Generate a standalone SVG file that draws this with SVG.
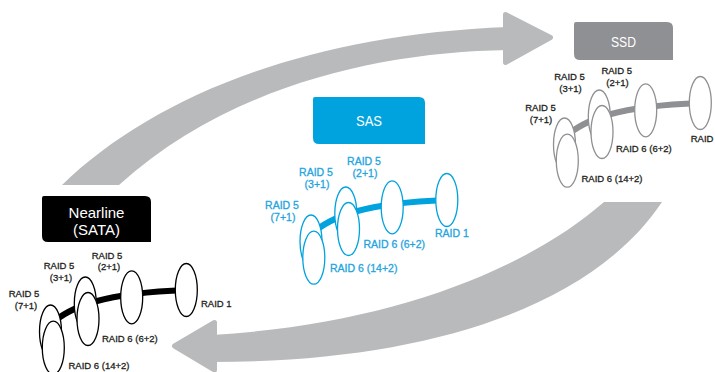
<svg xmlns="http://www.w3.org/2000/svg" width="715" height="372" viewBox="0 0 715 372">
  <style>
    .shaft{fill:#b9babc}
    .head{fill:#b9babc;stroke:#b9babc;stroke-width:5;stroke-linejoin:round}
    .title{font-family:"Liberation Sans",Arial,sans-serif;font-size:15px;fill:#fff;text-anchor:middle}
    .lbl{font-family:"Liberation Sans",Arial,sans-serif;font-size:9.5px;fill:#231f20;stroke:#231f20;stroke-width:0.3}
    .sas .lbl{font-size:10.5px;fill:#1ea4de;stroke:#1ea4de}
    .mid{text-anchor:middle}
  </style>
  <defs>
    <!-- one RAID chain: a thick curved rail with six RAID ellipses on it -->
    <g id="chain">
      <path d="M50,325 C70,306 105,293 186,290" fill="none" stroke="currentColor" stroke-width="6"/>
      <g fill="#fff" stroke="currentColor" stroke-width="1.3">
        <ellipse cx="50.5" cy="331.5" rx="11" ry="26.5"/>
        <ellipse cx="53.3" cy="347.7" rx="11" ry="26.5"/>
        <ellipse cx="85.3" cy="303.5" rx="11" ry="26.5"/>
        <ellipse cx="88" cy="319" rx="11" ry="26.5"/>
        <ellipse cx="131.7" cy="297.3" rx="11" ry="26.5"/>
        <ellipse cx="186.3" cy="290" rx="11" ry="26.5"/>
      </g>
    </g>
  </defs>

  <!-- curved arrows between tiers -->
  <g id="connectors">
    <g id="arrow-up">
      <path class="shaft" d="M62,185 C150,100 300,35 508,27 L508,50 C380,52 230,85 119,185 Z"/>
      <path class="head" d="M505.5,14.5 L550.5,37.5 L505.5,62.5 Z"/>
    </g>
    <g id="arrow-down">
      <path class="shaft" d="M604,202 C520,275 380,325 212,335 L212,362 C420,362 590,310 662,202 Z"/>
      <path class="head" d="M214.5,322.5 L174.5,346 L214.5,370 Z"/>
    </g>
  </g>

  <!-- Nearline (SATA) tier -->
  <g id="nearline" class="nl">
    <path d="M44,196 H145 Q151,196 151,202 V242 H48 Q42,242 42,236 V198 Q42,196 44,196 Z" fill="#000"/>
    <text class="title" x="96.5" y="218">Nearline</text>
    <text class="title" x="96.5" y="235">(SATA)</text>
    <use href="#chain" style="color:#000"/>
    <text class="lbl mid" x="24" y="296.5">RAID 5</text>
    <text class="lbl mid" x="26" y="308.5">(7+1)</text>
    <text class="lbl mid" x="59" y="268.8">RAID 5</text>
    <text class="lbl mid" x="61" y="280.5">(3+1)</text>
    <text class="lbl mid" x="107" y="258.5">RAID 5</text>
    <text class="lbl mid" x="109" y="270">(2+1)</text>
    <text class="lbl" x="201" y="307">RAID 1</text>
    <text class="lbl" x="102" y="341.5">RAID 6 (6+2)</text>
    <text class="lbl" x="68.5" y="368.5">RAID 6 (14+2)</text>
  </g>

  <!-- SAS tier -->
  <g id="sas" class="sas">
    <path d="M315,97 H419 Q425,97 425,103 V144 H319 Q313,144 313,138 V99 Q313,97 315,97 Z" fill="#00a3dd"/>
    <text class="title" x="369" y="125.5" textLength="26" lengthAdjust="spacingAndGlyphs">SAS</text>
    <use href="#chain" transform="translate(260.5,-90)" style="color:#00a3dd"/>
    <text class="lbl mid" x="282" y="208.5">RAID 5</text>
    <text class="lbl mid" x="283" y="220.5">(7+1)</text>
    <text class="lbl mid" x="316" y="175.5">RAID 5</text>
    <text class="lbl mid" x="317" y="188">(3+1)</text>
    <text class="lbl mid" x="364" y="164.5">RAID 5</text>
    <text class="lbl mid" x="365" y="176.5">(2+1)</text>
    <text class="lbl" x="435" y="237">RAID 1</text>
    <text class="lbl" x="363.5" y="248">RAID 6 (6+2)</text>
    <text class="lbl" x="330" y="271.5">RAID 6 (14+2)</text>
  </g>

  <!-- SSD tier -->
  <g id="ssd" class="ssd">
    <path d="M576,22 H667 Q673,22 673,28 V60 H580 Q574,60 574,54 V24 Q574,22 576,22 Z" fill="#8f9093"/>
    <text class="title" x="623.5" y="46.5" textLength="25" lengthAdjust="spacingAndGlyphs">SSD</text>
    <use href="#chain" transform="translate(514,-187)" style="color:#8f9093"/>
    <text class="lbl mid" x="540.5" y="111">RAID 5</text>
    <text class="lbl mid" x="541" y="122.5">(7+1)</text>
    <text class="lbl mid" x="569.5" y="80">RAID 5</text>
    <text class="lbl mid" x="570.5" y="92">(3+1)</text>
    <text class="lbl mid" x="616.7" y="74">RAID 5</text>
    <text class="lbl mid" x="617.5" y="86">(2+1)</text>
    <text class="lbl" x="690.7" y="141.5">RAID</text>
    <text class="lbl" x="616" y="151.5">RAID 6 (6+2)</text>
    <text class="lbl" x="581.5" y="181.5">RAID 6 (14+2)</text>
  </g>
</svg>
